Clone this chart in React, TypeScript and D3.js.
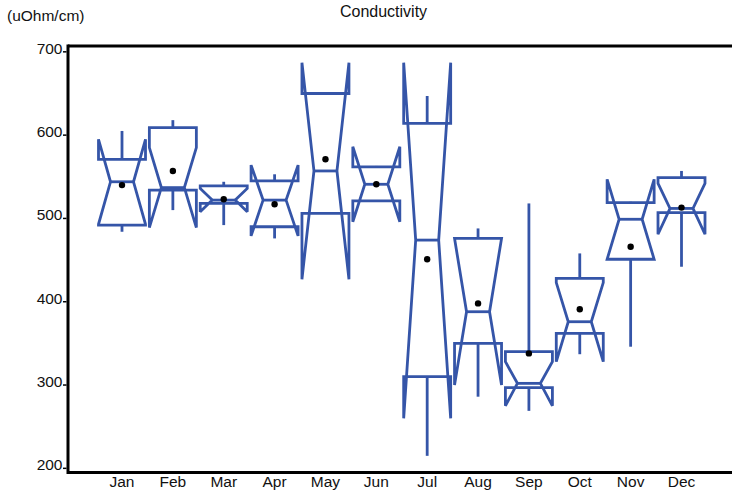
import * as d3 from 'd3';

// monthly conductivity
const months = ['Jan', 'Feb', 'Mar', 'Apr', 'May', 'Jun', 'Jul', 'Aug', 'Sep', 'Oct', 'Nov', 'Dec'];
const whiskerLow = [484, 510, 492, 476, 506, 520, 215, 286, 269, 337, 346, 442];
const q1 = [492, 534, 518, 490, 506, 521, 310, 350, 297, 362, 451, 507];
const median = [544, 537, 522, 522, 557, 541, 474, 388, 302, 376, 499, 512];
const q3 = [571, 609, 539, 545, 650, 562, 614, 476, 340, 428, 519, 549];
const whiskerHigh = [605, 618, 544, 553, 650, 563, 647, 488, 518, 458, 520, 557];
const notchLow = [493, 489, 508, 479, 427, 496, 260, 300, 275, 328, 451, 481];
const notchHigh = [595, 585, 536, 564, 687, 586, 687, 476, 328, 423, 547, 542];
const means = [540, 557, 523, 517, 571, 541, 451, 398, 338, 391, 466, 513];
const yTicks = [200, 300, 400, 500, 600, 700];

const W = 732;
const H = 495;
const left = 68;
const top = 46;
const bottom = 472.5;
const BLUE = '#3555a8';
const FONT = '"Liberation Sans", Arial, sans-serif';

export default function App() {
  const x = d3.scalePoint<string>().domain(months).range([122, 681.5]);
  const y = d3.scaleLinear().domain([195, 707]).range([bottom, top]);
  const halfW = 23.5;
  const halfN = 11.5;
  const line = d3.line<[number, number]>();

  return (
    <div style={{ position: 'fixed', left: 0, top: 0, background: '#fff' }}>
      <svg width={W} height={H} style={{ display: 'block', fontFamily: FONT }}>
        <rect width={W} height={H} fill="#fff" />
        <text x={383.5} y={17.3} textAnchor="middle" fontSize={16} fill="#111">Conductivity</text>
        <text x={7} y={20.5} fontSize={15.5} fill="#111">(uOhm/cm)</text>

        {/* boxes */}
        {months.map((m, i) => {
          const cx = x(m) as number;
          const L = cx - halfW, R = cx + halfW;
          const pts: [number, number][] = [
            [L, y(q1[i])], [L, y(notchLow[i])], [cx - halfN, y(median[i])], [L, y(notchHigh[i])], [L, y(q3[i])],
            [R, y(q3[i])], [R, y(notchHigh[i])], [cx + halfN, y(median[i])], [R, y(notchLow[i])], [R, y(q1[i])],
          ];
          return (
            <g key={m} stroke={BLUE} strokeWidth={2.8} fill="none" strokeLinejoin="miter" strokeMiterlimit={2}>
              <line x1={cx} x2={cx} y1={y(q3[i])} y2={y(whiskerHigh[i])} />
              <line x1={cx} x2={cx} y1={y(q1[i])} y2={y(whiskerLow[i])} />
              <path d={line(pts) + 'Z'} />
              <line x1={cx - halfN} x2={cx + halfN} y1={y(median[i])} y2={y(median[i])} />
              <circle cx={cx} cy={y(means[i])} r={3.2} fill="#000" stroke="none" />
            </g>
          );
        })}

        {/* axes */}
        <line x1={left} x2={W} y1={top} y2={top} stroke="#000" strokeWidth={3} />
        <line x1={left} x2={W} y1={bottom} y2={bottom} stroke="#000" strokeWidth={3} />
        <line x1={left} x2={left} y1={top - 1.5} y2={bottom + 1.5} stroke="#000" strokeWidth={3} />
        {yTicks.map(t => (
          <g key={t}>
            <line x1={63} x2={66.5} y1={y(t)} y2={y(t)} stroke="#000" strokeWidth={1.5} />
            <text x={62.5} y={y(t) + 1.8} textAnchor="end" fontSize={15.5} fill="#111">{t}</text>
          </g>
        ))}
        {months.map(m => (
          <text key={m} x={x(m)} y={487} textAnchor="middle" fontSize={15.5} fill="#111">{m}</text>
        ))}
      </svg>
    </div>
  );
}
